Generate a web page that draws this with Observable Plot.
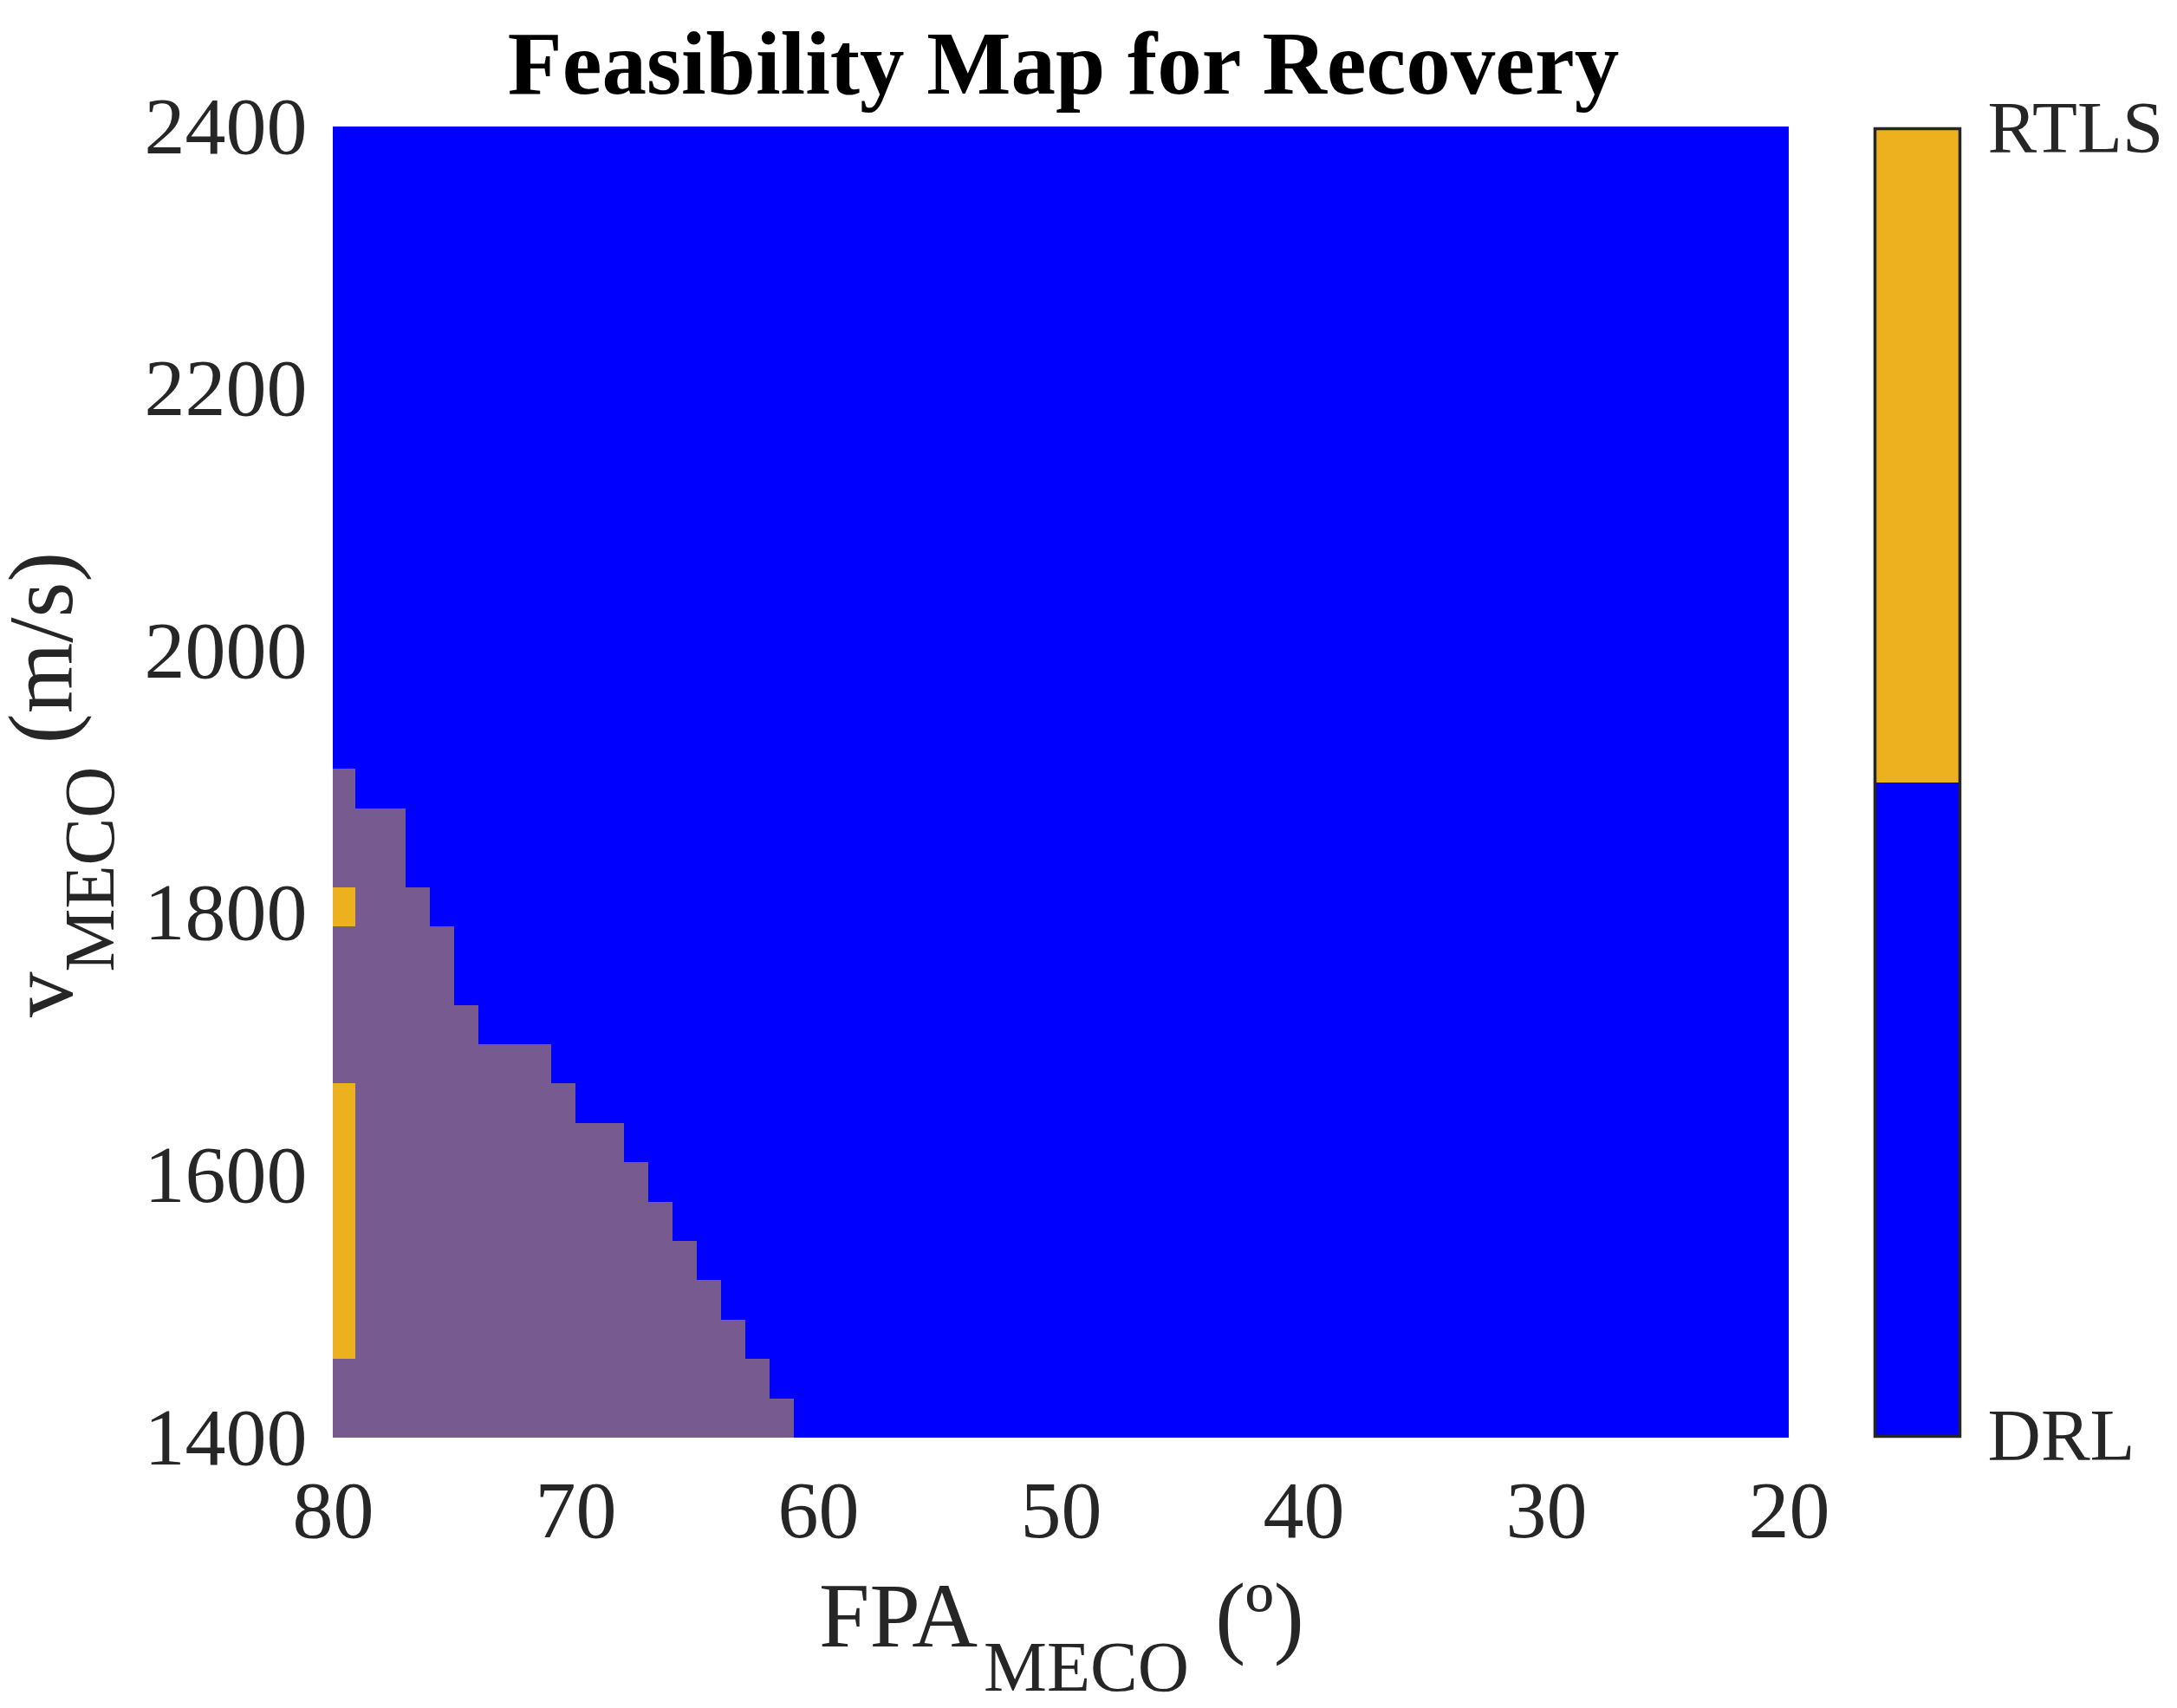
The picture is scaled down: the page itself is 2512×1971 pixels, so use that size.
<!DOCTYPE html>
<html>
<head>
<meta charset="utf-8">
<script src="https://cdn.jsdelivr.net/npm/d3@7"></script>
<script src="https://cdn.jsdelivr.net/npm/@observablehq/plot@0.6"></script>
<style>
  html, body { margin: 0; padding: 0; background: #fff; }
  #chart { position: relative; width: 2512px; height: 1971px; overflow: hidden; }
  #chart svg { position: absolute; left: 0; top: 0; max-width: none; background: transparent; }
</style>
</head>
<body>
<div id="chart"></div>
<script>
const titleText = "Feasibility Map for Recovery";
const fpaTicks = [80, 70, 60, 50, 40, 30, 20];
const velocityTicks = [1400, 1600, 1800, 2000, 2200, 2400];
const fpaDomain = [80, 20];
const velocityDomain = [1400, 2400];

// Lower edge (m/s) of each 30 m/s row holding the overlap region
const rowStart = [1400, 1430, 1460, 1490, 1520, 1550, 1580, 1610, 1640, 1670, 1700, 1730, 1760, 1790, 1820, 1850, 1880];
// FPA (deg) where the overlap region ends in that row
const rowEdge = [61, 62, 63, 64, 65, 66, 67, 68, 70, 71, 74, 75, 75, 76, 77, 77, 79.07];
// Rows whose first FPA column is RTLS only
const rtlsRows = [1460, 1490, 1520, 1550, 1580, 1610, 1640, 1790];
const rowHeight = 30;
const rtlsColumn = [80, 79.07];

const barLevels = [0, 0.5, 1];
const barNames = ["DRL", "RTLS"];

const BLUE = "#0000ff", ORANGE = "#edb120", PURPLE = "#775a90", INK = "#262626";
const FONT = "'Liberation Serif', 'Times New Roman', serif";

const overlap = rowStart.map((v, i) => ({v, edge: rowEdge[i]}));
const size = {width: 2512, height: 1971};

const main = Plot.plot({
  ...size,
  marginLeft: 384, marginRight: 448, marginTop: 146, marginBottom: 312,
  style: {fontFamily: FONT, color: INK, background: "transparent"},
  x: {domain: fpaDomain, label: null},
  y: {domain: velocityDomain, label: null},
  marks: [
    Plot.rect([{}], {x1: () => fpaDomain[0], x2: () => fpaDomain[1], y1: () => velocityDomain[0], y2: () => velocityDomain[1], fill: BLUE, shapeRendering: "crispEdges"}),
    Plot.rect(overlap, {x1: () => fpaDomain[0], x2: "edge", y1: "v", y2: d => d.v + rowHeight, fill: PURPLE, shapeRendering: "crispEdges"}),
    Plot.rect(rtlsRows, {x1: () => rtlsColumn[0], x2: () => rtlsColumn[1], y1: d => d, y2: d => d + rowHeight, fill: ORANGE, shapeRendering: "crispEdges"}),
    Plot.axisX({ticks: fpaTicks, tickSize: 0, tickPadding: 48, fontSize: 94, label: null, tickFormat: d => String(d)}),
    Plot.axisY({ticks: velocityTicks, tickSize: 0, tickPadding: 30, fontSize: 94, label: null, tickFormat: d => String(d)})
  ]
});

const bar = Plot.plot({
  ...size,
  marginLeft: 2163, marginRight: 251, marginTop: 148, marginBottom: 314,
  style: {fontFamily: FONT, color: INK, background: "transparent"},
  x: {domain: [0, 1], axis: null},
  y: {domain: [barLevels[0], barLevels[2]], label: null},
  marks: [
    Plot.rect(barNames, {x1: () => 0, x2: () => 1, y1: (d, i) => barLevels[i], y2: (d, i) => barLevels[i + 1], fill: (d, i) => i ? ORANGE : BLUE, shapeRendering: "crispEdges"}),
    Plot.frame({stroke: INK, strokeWidth: 3.5}),
    Plot.axisY({anchor: "right", ticks: [0, 1], tickSize: 0, tickPadding: 32, fontSize: 85, label: null, tickFormat: d => barNames[d]})
  ]
});

const host = document.getElementById("chart");
host.append(main, bar);

const svg = d3.select(main);
svg.append("text")
  .attr("x", 1227).attr("y", 108)
  .attr("text-anchor", "middle")
  .attr("font-family", FONT).attr("font-weight", "bold").attr("font-size", 103).attr("fill", "#000")
  .text(titleText);

function subLabel(sel, base, sub, tail, drop, gapSub, gapTail) {
  sel.attr("text-anchor", "start").attr("font-family", FONT).attr("font-size", 105).attr("fill", INK);
  sel.append("tspan").text(base);
  sel.append("tspan").attr("font-size", 82).attr("dx", gapSub).attr("dy", drop).text(sub);
  sel.append("tspan").attr("dx", gapTail).attr("dy", -drop).text(tail);
}
subLabel(svg.append("text").attr("x", 945).attr("y", 1900), "FPA", "MECO", "\u00a0(\u00ba)", 51, 7, 4);
subLabel(svg.append("text").attr("transform", "translate(83,1174) rotate(-90)"), "v", "MECO", "\u00a0(m/s)", 48, 0, 0);
</script>
</body>
</html>
